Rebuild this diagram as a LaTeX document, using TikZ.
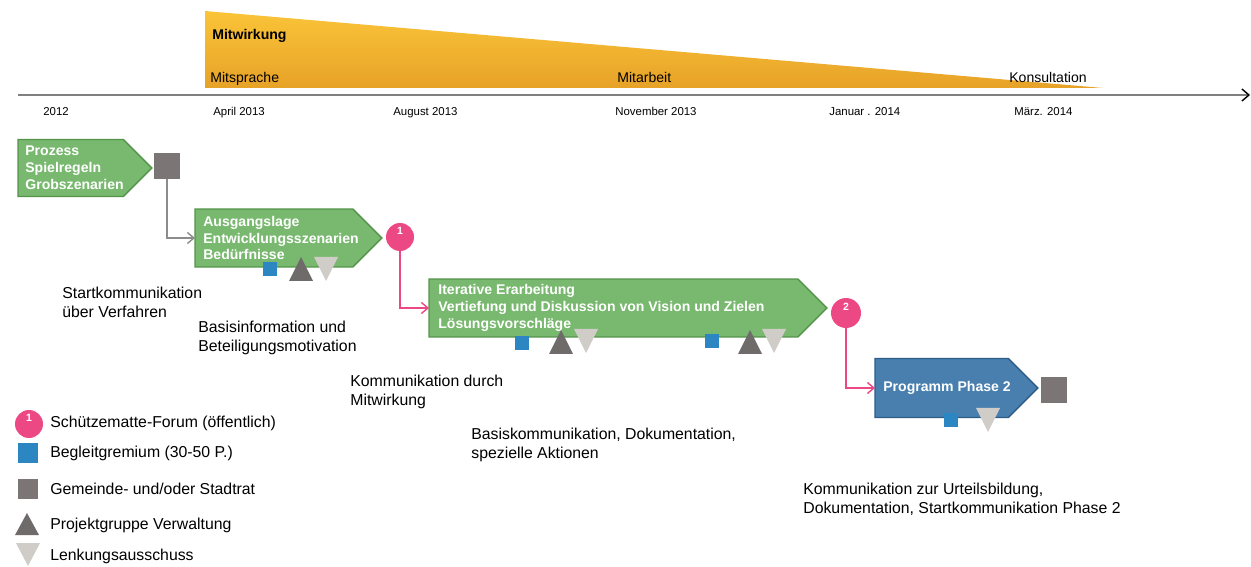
\documentclass[tikz,border=0pt]{standalone}
\usepackage{fontspec}
\setmainfont{Liberation Sans}
\usetikzlibrary{arrows.meta,positioning,shapes.symbols}
\definecolor{mwgreen}{RGB}{121,185,111}
\definecolor{mwgreendk}{RGB}{84,148,74}
\definecolor{phblue}{RGB}{72,127,174}
\definecolor{phbluedk}{RGB}{45,92,135}
\definecolor{fpink}{RGB}{236,73,132}
\definecolor{bgblue}{RGB}{44,134,194}
\definecolor{srgray}{RGB}{123,117,117}
\definecolor{pgdark}{RGB}{111,107,107}
\definecolor{lklight}{RGB}{208,205,201}
\definecolor{mworange}{RGB}{250,196,56}
\definecolor{mworangedk}{RGB}{231,162,40}

\begin{document}
\begin{tikzpicture}[x=0.02cm, y=-0.02cm,
  phase/.style={signal, signal to=east, signal pointer angle=90, draw=mwgreendk, fill=mwgreen, line width=0.8pt, inner sep=0pt, outer sep=0pt, anchor=west},
  phasetxt/.style={text=white, font=\fontsize{8}{9.6}\selectfont\bfseries, align=left, inner sep=0pt},
  lbl/.style={font=\fontsize{9}{10.8}\selectfont, align=left, anchor=west, inner sep=0pt},
  legtxt/.style={font=\fontsize{9}{10.8}\selectfont, anchor=base west, inner sep=0pt},
  datelbl/.style={font=\fontsize{6.5}{7.8}\selectfont, anchor=base west, inner sep=0pt},
  stage/.style={font=\fontsize{8}{9.6}\selectfont, anchor=base west, inner sep=0pt},
  forum/.style={circle, fill=fpink, minimum size=5.6mm, inner sep=0pt},
  forumnum/.style={text=white, font=\fontsize{6}{6}\selectfont\bfseries, yshift=1.3mm},
  bgsq/.style={fill=bgblue, minimum size=2.8mm, inner sep=0pt},
  srsq/.style={fill=srgray, minimum size=5.2mm, inner sep=0pt},
  con/.style={line width=0.8pt, -{Straight Barb[length=1.3mm, width=2.2mm]}}]
\useasboundingbox (0,0) rectangle (1251,567);

% Mitwirkung wedge
\shade[top color=mworange, bottom color=mworangedk] (205,11) -- (205,88) -- (1103,88) -- cycle;
\node[stage, font=\fontsize{8}{9.6}\selectfont\bfseries] (mitw) at (212,40) {Mitwirkung};
\foreach \x/\txt in {210/Mitsprache, 617/Mitarbeit, 1009/Konsultation}
  \node[stage] at (\x,83) {\txt};

% Timeline
\coordinate (tstart) at (18,95);
\coordinate (tend) at (1250,95);
\draw[black!50, line width=0.8pt, -{Straight Barb[length=1.4mm, width=2.4mm, black]}] (tstart) -- (tend);
\foreach \x/\txt in {43/2012, 213/April 2013, 393/August 2013, 615/November 2013, 829/Januar . 2014, 1014/März. 2014}
  \node[datelbl] at (\x,116) {\txt};

% Phases
\node[phase, minimum width=26.8mm, minimum height=11.4mm] (b1) at (18,168) {};
\node[phasetxt, right=1.4mm of b1.west] (t1) {Prozess\\Spielregeln\\Grobszenarien};
\node[phase, minimum width=37.4mm, minimum height=11.6mm] (b2) at (195,238) {};
\node[phasetxt, right=1.6mm of b2.west] (t2) {Ausgangslage\\Entwicklungsszenarien\\Bedürfnisse};
\node[phase, minimum width=79.6mm, minimum height=11.6mm] (b3) at (429,308) {};
\node[phasetxt, right=1.8mm of b3.west] (t3) {Iterative Erarbeitung\\Vertiefung und Diskussion von Vision und Zielen\\Lösungsvorschläge};
\node[phase, draw=phbluedk, fill=phblue, minimum width=32.6mm, minimum height=11.8mm] (b4) at (875,388) {};
\node[phasetxt, right=1.6mm of b4.west] (t4) {Programm Phase 2};

% Gremien
\node[srsq] (sr1) at (167,166) {};
\node[srsq] (sr2) at (1054,390) {};
\node[forum, label={[forumnum]center:1}] (f1) at (400,237) {};
\node[forum, minimum size=6mm, label={[forumnum]center:2}] (f2) at (846,313) {};
\foreach \cx/\cy [count=\i] in {270/269, 522/343, 712/341, 951/420}
  \node[bgsq] (bg\i) at (\cx,\cy) {};
\foreach \cx/\cy in {301/269, 561/342, 750/342}
  \fill[pgdark] (\cx-12,\cy+12) -- (\cx+12,\cy+12) -- (\cx,\cy-12) -- cycle;
\foreach \cx/\cy in {326/269, 586/341, 774/341, 988/420}
  \fill[lklight] (\cx-12,\cy-12) -- (\cx+12,\cy-12) -- (\cx,\cy+12) -- cycle;

% Connectors
\draw[con, black!45] (sr1.south) |- (b2.west);
\draw[con, fpink] (f1.south) |- (b3.west);
\draw[con, fpink] (f2.south) |- (b4.west);

% Kommunikation
\node[lbl] (k1) at (62,302) {Startkommunikation\\über Verfahren};
\node[lbl] (k2) at (198,338) {Basisinformation und\\Beteiligungsmotivation};
\node[lbl] (k3) at (350,392) {Kommunikation durch\\Mitwirkung};
\node[lbl] (k4) at (471,445) {Basiskommunikation, Dokumentation,\\spezielle Aktionen};
\node[lbl] (k5) at (803,499) {Kommunikation zur Urteilsbildung,\\Dokumentation, Startkommunikation Phase 2};

% Legend
\node[forum, label={[forumnum]center:1}] (lg1) at (29,424) {};
\node[bgsq, minimum size=4mm] (lg2) at (28,453) {};
\node[srsq, minimum size=4.2mm] (lg3) at (28,489) {};
\fill[pgdark] (15,535) -- (39,535) -- (27,513) -- cycle;
\fill[lklight] (16,543) -- (40,543) -- (28,566) -- cycle;
\foreach \y/\txt in {428/{Schützematte-Forum (öffentlich)}, 458/{Begleitgremium (30-50 P.)}, 494/{Gemeinde- und/oder Stadtrat}, 529/{Projektgruppe Verwaltung}, 560/{Lenkungsausschuss}}
  \node[legtxt] at (50,\y) {\txt};
\end{tikzpicture}
\end{document}
